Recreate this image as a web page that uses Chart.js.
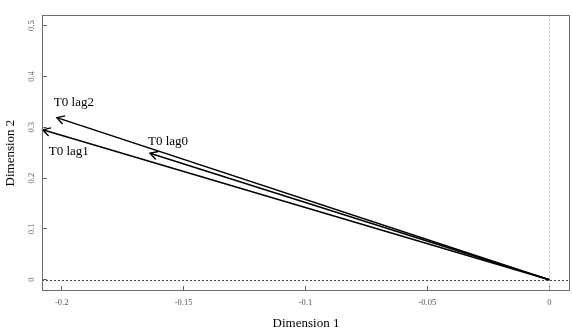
<!DOCTYPE html>
<html>
<head>
<meta charset="utf-8">
<script src="https://cdn.jsdelivr.net/npm/chart.js@4.4.1/dist/chart.umd.min.js"></script>
<style>
  html, body { margin: 0; padding: 0; background: #ffffff; }
  #wrap { width: 572px; height: 331px; }
</style>
</head>
<body>
<div id="wrap"><canvas id="c" width="572" height="331"></canvas></div>
<script>
// ---- data ----
const seriesNames = ['T0 lag0', 'T0 lag1', 'T0 lag2'];
const dim1 = [-0.1638, -0.2078, -0.2020];   // Dimension 1 of arrow tips
const dim2 = [0.2488, 0.2950, 0.3190];      // Dimension 2 of arrow tips
const originX = 0;
const originY = 0;
const xTicks = [-0.2, -0.15, -0.1, -0.05, 0];
const xTickLabels = ['-0.2', '-0.15', '-0.1', '-0.05', '0'];
const yTicks = [0, 0.1, 0.2, 0.3, 0.4, 0.5];
const yTickLabels = ['0', '0.1', '0.2', '0.3', '0.4', '0.5'];

// ---- style (not data) ----
const labelOffsets = [[18, -12], [26, 21.5], [17, -15]]; // px offset of label from tip
const serif = '"Liberation Serif", "Times New Roman", serif';

const datasets = seriesNames.map((name, i) => ({
  label: name,
  data: [{x: originX, y: originY}, {x: dim1[i], y: dim2[i]}],
  showLine: true,
  borderColor: '#000000',
  borderWidth: 1.5,
  pointRadius: 0,
  pointHoverRadius: 0,
  fill: false
}));

const refAndArrows = {
  id: 'refAndArrows',
  beforeDatasetsDraw(chart) {
    const {ctx, chartArea: a, scales: {x, y}} = chart;
    ctx.save();
    ctx.lineWidth = 1;
    ctx.strokeStyle = '#bdbdbd';
    ctx.setLineDash([2, 2]);
    const px0 = Math.round(x.getPixelForValue(0)) + 0.5;
    ctx.beginPath(); ctx.moveTo(px0, a.top); ctx.lineTo(px0, a.bottom); ctx.stroke();
    ctx.strokeStyle = '#444444';
    const py0 = Math.round(y.getPixelForValue(0)) + 0.5;
    ctx.beginPath(); ctx.moveTo(a.left, py0); ctx.lineTo(a.right, py0); ctx.stroke();
    ctx.restore();
  },
  afterDatasetsDraw(chart) {
    const {ctx, chartArea: a, scales: {x, y}} = chart;
    ctx.save();
    chart.data.datasets.forEach((ds, i) => {
      const p0 = ds.data[0], p1 = ds.data[1];
      const x0 = x.getPixelForValue(p0.x), y0 = y.getPixelForValue(p0.y);
      const x1 = x.getPixelForValue(p1.x), y1 = y.getPixelForValue(p1.y);
      const ang = Math.atan2(y1 - y0, x1 - x0);
      const L = 8.5, th = Math.PI / 6;
      ctx.strokeStyle = '#000';
      ctx.lineWidth = 1.4;
      ctx.setLineDash([]);
      ctx.beginPath();
      ctx.moveTo(x1 - L * Math.cos(ang - th), y1 - L * Math.sin(ang - th));
      ctx.lineTo(x1, y1);
      ctx.lineTo(x1 - L * Math.cos(ang + th), y1 - L * Math.sin(ang + th));
      ctx.stroke();
      ctx.fillStyle = '#000';
      ctx.font = '13px ' + serif;
      ctx.textAlign = 'center';
      ctx.textBaseline = 'middle';
      ctx.fillText(ds.label, x1 + labelOffsets[i][0], y1 + labelOffsets[i][1]);
    });
    ctx.strokeStyle = '#6e6e6e';
    ctx.lineWidth = 1;
    ctx.strokeRect(Math.round(a.left) + 0.5, Math.round(a.top) + 0.5,
                   Math.round(a.right - a.left) - 1, Math.round(a.bottom - a.top) - 1);
    ctx.restore();
  }
};

new Chart(document.getElementById('c'), {
  type: 'scatter',
  data: { datasets },
  options: {
    responsive: false,
    animation: false,
    devicePixelRatio: 1,
    layout: { padding: { left: 0, right: 2, top: 10, bottom: 0 } },
    plugins: { legend: { display: false }, tooltip: { enabled: false } },
    scales: {
      x: {
        type: 'linear',
        min: -0.2081, max: 0.0085,
        afterBuildTicks: (s) => { s.ticks = xTicks.map(v => ({value: v})); },
        afterFit: (s) => { s.height = 40; },
        grid: { drawOnChartArea: false, drawTicks: true, tickLength: -5, color: '#666666', lineWidth: 1 },
        border: { display: false },
        ticks: {
          autoSkip: false, maxRotation: 0, minRotation: 0, padding: 12,
          color: '#555555', font: { family: serif, size: 8.5 },
          callback: (v) => { const k = xTicks.findIndex(t => Math.abs(t - v) < 1e-9); return k >= 0 ? xTickLabels[k] : ''; }
        },
        title: { display: true, text: 'Dimension 1', color: '#000', font: { family: serif, size: 13 }, padding: { top: 0, bottom: 0 } }
      },
      y: {
        type: 'linear',
        min: -0.0222, max: 0.5207,
        afterBuildTicks: (s) => { s.ticks = yTicks.map(v => ({value: v})); },
        afterFit: (s) => { s.width = 42; },
        grid: { drawOnChartArea: false, drawTicks: true, tickLength: -5, color: '#666666', lineWidth: 1 },
        border: { display: false },
        ticks: {
          autoSkip: false, minRotation: 90, maxRotation: 90, padding: 10, crossAlign: 'center',
          color: '#555555', font: { family: serif, size: 8.5 },
          callback: (v) => { const k = yTicks.findIndex(t => Math.abs(t - v) < 1e-9); return k >= 0 ? yTickLabels[k] : ''; }
        },
        title: { display: true, text: 'Dimension 2', color: '#000', font: { family: serif, size: 13 }, padding: { top: 3, bottom: 0 } }
      }
    }
  },
  plugins: [refAndArrows]
});
</script>
</body>
</html>
